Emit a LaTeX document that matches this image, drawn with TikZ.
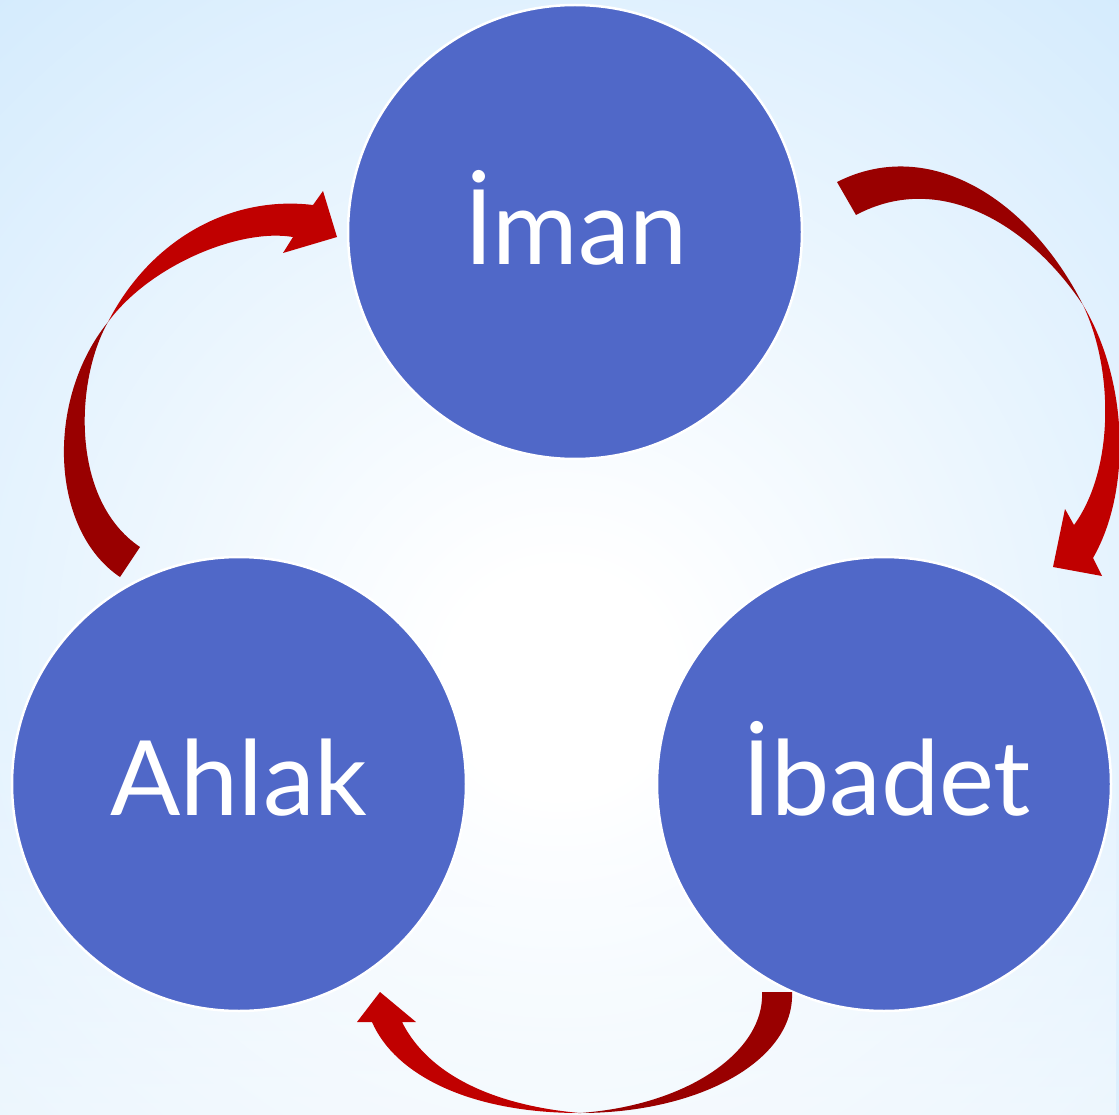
\documentclass[tikz,border=0pt]{standalone}
\usepackage{fontspec}
\setmainfont{Lato}
\usetikzlibrary{fadings}
\definecolor{bgblue}{RGB}{210,234,253}
\definecolor{bandblue}{RGB}{190,222,249}
\definecolor{circblue}{RGB}{80,104,200}
\definecolor{arrdark}{RGB}{153,0,0}
\definecolor{arrred}{RGB}{192,0,0}
\pgfdeclareradialshading{bgshade}{\pgfpoint{0bp}{-6bp}}{color(0bp)=(white); color(5bp)=(white); color(40bp)=(bgblue); color(80bp)=(bgblue)}
\tikzfading[name=bandfade, top color=transparent!100, middle color=transparent!0, bottom color=transparent!100]
\tikzfading[name=bottomfade, top color=transparent!100, bottom color=transparent!50]

\begin{document}
\begin{tikzpicture}[x=1pt, y=-1pt,
  circ/.style={circle, draw=white, line width=2.5pt, fill=circblue, minimum size=454pt, inner sep=0pt},
  lbl/.style={text=white, anchor=base, font=\fontsize{104}{104}\selectfont}]
% Background
\shade[shading=bgshade] (0,0) rectangle (1119,1115);
\fill[white, path fading=bottomfade] (0,700) rectangle (1119,1115);
\fill[bandblue, path fading=bandfade, opacity=0.9] (0,930) rectangle (1119,990);
\fill[bandblue, path fading=bandfade, opacity=0.5] (0,850) rectangle (1119,890);
\useasboundingbox (0,0) rectangle (1119,1115);

% Circles
\node[circ] (iman) at (575,232) {};
\node[circ] (ahlak) at (239,784) {};
\node[circ] (ibadet) at (884,784) {};

% Labels
\node[lbl] (imantext) at (576,265) {İman};
\node[lbl] (ahlaktext) at (239,815) {Ahlak};
\node[lbl] (ibadettext) at (887,815) {İbadet};

% Arrow: Iman -> Ibadet
\fill[arrdark] (837,182) .. controls (930,135) and (1030,200) .. (1083,305)
  .. controls (1030,225) and (940,170) .. (856,215) -- cycle;
\fill[arrred] (1083,305) .. controls (1128,380) and (1132,490) .. (1093,558)
  -- (1102,576) -- (1053,567) -- (1065,509) -- (1074,525)
  .. controls (1114,470) and (1114,370) .. (1083,305) -- cycle;

% Arrow: Ibadet -> Ahlak
\fill[arrdark] (792,992) .. controls (795,1060) and (700,1113) .. (580,1113)
  .. controls (690,1105) and (765,1050) .. (762,992) -- cycle;
\fill[arrred] (580,1113) .. controls (470,1113) and (395,1075) .. (372,1022)
  -- (357,1022) -- (380,992) -- (416,1022) -- (402,1022)
  .. controls (430,1078) and (500,1106) .. (580,1113) -- cycle;

% Arrow: Ahlak -> Iman
\fill[arrdark] (120,577) .. controls (50,530) and (45,400) .. (108,322)
  .. controls (75,380) and (70,500) .. (140,547) -- cycle;
\fill[arrred] (108,322) .. controls (150,240) and (230,195) .. (313,205)
  -- (323,191) -- (337,237) -- (283,253) -- (293,237)
  .. controls (240,228) and (150,265) .. (108,322) -- cycle;
\end{tikzpicture}
\end{document}
